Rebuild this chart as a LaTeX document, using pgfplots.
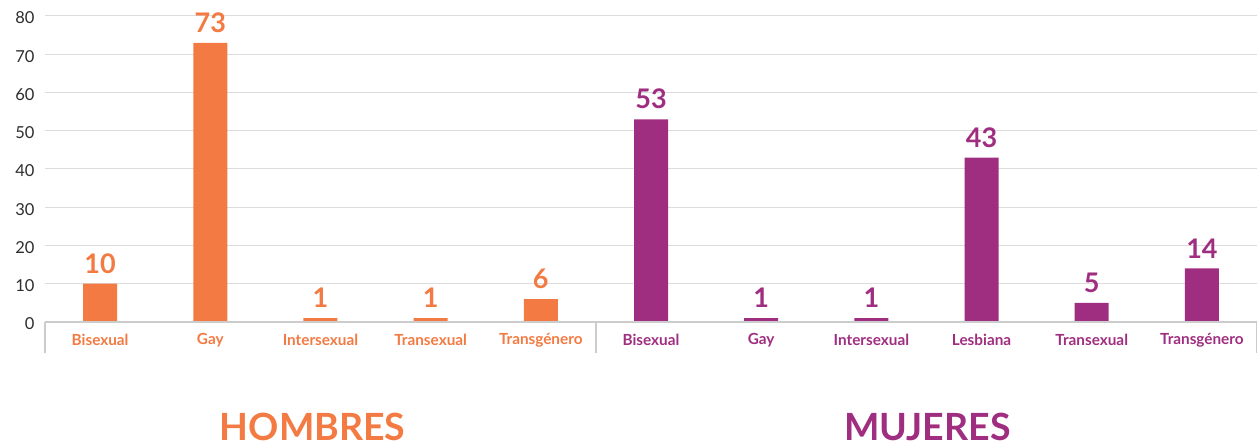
\documentclass[border=0pt]{standalone}
\usepackage{pgfplots}
\pgfplotsset{compat=1.18}
\usepackage{fontspec}
\setmainfont{Lato}
\definecolor{horange}{RGB}{243,122,66}
\definecolor{mpurple}{RGB}{160,46,128}
\definecolor{gridgray}{RGB}{220,220,220}
\definecolor{axisgray}{RGB}{204,204,204}
\definecolor{ticktext}{RGB}{45,45,45}
\begin{document}
\begin{tikzpicture}
\begin{axis}[
  scale only axis,
  width=1212pt, height=306pt,
  xmin=-0.5, xmax=10.5, ymin=0, ymax=80,
  ybar, bar width=34pt,
  axis line style={draw=none},
  tick style={draw=none},
  ytick={0,10,...,80},
  ymajorgrids, major grid style={gridgray, line width=1pt},
  /pgf/number format/assume math mode=true,
  yticklabel style={font=\fontsize{16.5}{18}\selectfont, text=ticktext, xshift=-7pt, yshift=-2pt},
  xtick={0,...,10},
  xticklabels={
    \textcolor{horange}{Bisexual},\textcolor{horange}{Gay},\textcolor{horange}{Intersexual},\textcolor{horange}{Transexual},\textcolor{horange}{Transgénero},
    \textcolor{mpurple}{Bisexual},\textcolor{mpurple}{Gay},\textcolor{mpurple}{Intersexual},\textcolor{mpurple}{Lesbiana},\textcolor{mpurple}{Transexual},\textcolor{mpurple}{Transgénero}},
  xticklabel style={font=\fontsize{15.3}{17}\selectfont\bfseries, yshift=-4pt},
  nodes near coords,
  every node near coord/.append style={font=\fontsize{27}{30}\selectfont\bfseries, anchor=south, inner sep=0pt, yshift=10pt},
  clip=false,
]
\addplot[fill=horange, draw=none, bar shift=0pt, every node near coord/.append style={text=horange}] coordinates {(0,10) (1,73) (2,1) (3,1) (4,6)};
\addplot[fill=mpurple, draw=none, bar shift=0pt, every node near coord/.append style={text=mpurple}] coordinates {(5,53) (6,1) (7,1) (8,43) (9,5) (10,14)};
\draw[axisgray, line width=2pt] (axis cs:-0.5,0) -- (axis cs:10.5,0);
\draw[axisgray, line width=2pt] (axis cs:-0.5,0) -- ([yshift=-31pt]axis cs:-0.5,0);
\draw[axisgray, line width=2pt] (axis cs:4.5,0) -- ([yshift=-31pt]axis cs:4.5,0);
\draw[axisgray, line width=2pt] (axis cs:10.5,0) -- ([yshift=-31pt]axis cs:10.5,0);
\node[anchor=base, text=horange, font=\fontsize{37.5}{42}\selectfont\bfseries, inner sep=0pt] at ([yshift=-118pt]axis cs:1.93,0) {HOMBRES};
\node[anchor=base, text=mpurple, font=\fontsize{37.5}{42}\selectfont\bfseries, inner sep=0pt] at ([yshift=-118pt]axis cs:7.51,0) {MUJERES};
\end{axis}
\pgfresetboundingbox
\useasboundingbox (-45pt,-121pt) rectangle (1212pt,322pt);
\end{tikzpicture}
\end{document}
